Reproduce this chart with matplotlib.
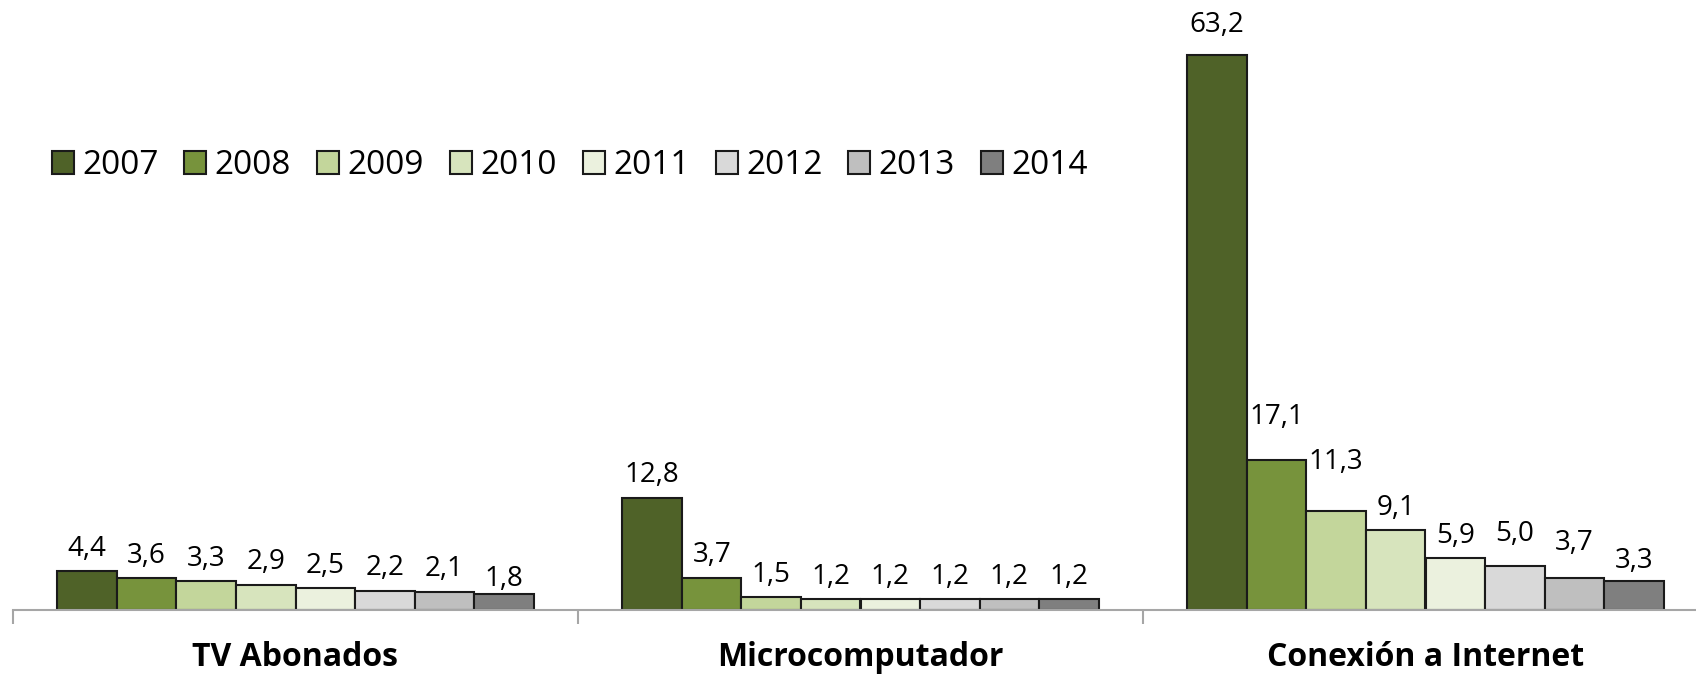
import numpy as np
import matplotlib
matplotlib.use("Agg")
import matplotlib.pyplot as plt

plt.rcParams['font.family'] = ['Open Sans', 'DejaVu Sans']

# datos
categorias = ["TV Abonados", "Microcomputador", "Conexión a Internet"]
anios = ["2007", "2008", "2009", "2010", "2011", "2012", "2013", "2014"]
tv_abonados = [4.4, 3.6, 3.3, 2.9, 2.5, 2.2, 2.1, 1.8]
microcomputador = [12.8, 3.7, 1.5, 1.2, 1.2, 1.2, 1.2, 1.2]
conexion_internet = [63.2, 17.1, 11.3, 9.1, 5.9, 5.0, 3.7, 3.3]

colores = ["#4F6228", "#77933C", "#C3D69B", "#D7E4BD",
           "#EBF1DE", "#D9D9D9", "#BFBFBF", "#7F7F7F"]

# desplazamiento extra de algunas etiquetas (como las dejó Excel), en puntos
extra = {(0, 7): -5, (2, 0): 6, (2, 1): 15, (2, 2): 19, (2, 5): 7, (2, 6): 9, (2, 7): -2}

valores = np.array([tv_abonados, microcomputador, conexion_internet])

W, H = 1696, 677
fig = plt.figure(figsize=(W / 100, H / 100), dpi=100)
ax = fig.add_axes([13 / W, 67 / H, 1695 / W, 610 / H])

x = np.arange(len(categorias))
ancho = 0.8425 / len(anios)
for i, anio in enumerate(anios):
    pos = x - 0.8425 / 2 + ancho * (i + 0.5)
    barras = ax.bar(pos, valores[:, i], width=ancho, color=colores[i],
                    edgecolor="#1a1a1a", linewidth=1.5, label=anio)
    for j, b in enumerate(barras):
        texto = f"{valores[j, i]:.1f}".replace(".", ",")
        ax.annotate(texto, (b.get_x() + b.get_width() / 2, b.get_height()),
                    xytext=(0, 6 + extra.get((j, i), 0)), textcoords="offset points",
                    ha="center", va="bottom", fontsize=20)

ax.set_xlim(-0.5, 2.5)
ax.set_ylim(0, 69.5)

for s in ["top", "right", "left"]:
    ax.spines[s].set_visible(False)
ax.spines["bottom"].set_color("#A6A6A6")
ax.spines["bottom"].set_linewidth(1.5)
ax.set_yticks([])

ax.set_xticks(x)
ax.set_xticklabels(categorias, fontsize=23, fontweight="bold")
ax.tick_params(axis="x", which="major", length=0, pad=22)
ax.set_xticks([-0.5, 0.5, 1.5, 2.5], minor=True)
ax.tick_params(axis="x", which="minor", length=10, width=1.5, color="#A6A6A6")

ax.legend(loc="center left", bbox_to_anchor=(0.015, 0.728), ncol=8, frameon=False,
          fontsize=24, handlelength=0.66, handleheight=0.66, handletextpad=0.25,
          columnspacing=0.78, borderaxespad=0)

fig.savefig("out.png", dpi=100)
